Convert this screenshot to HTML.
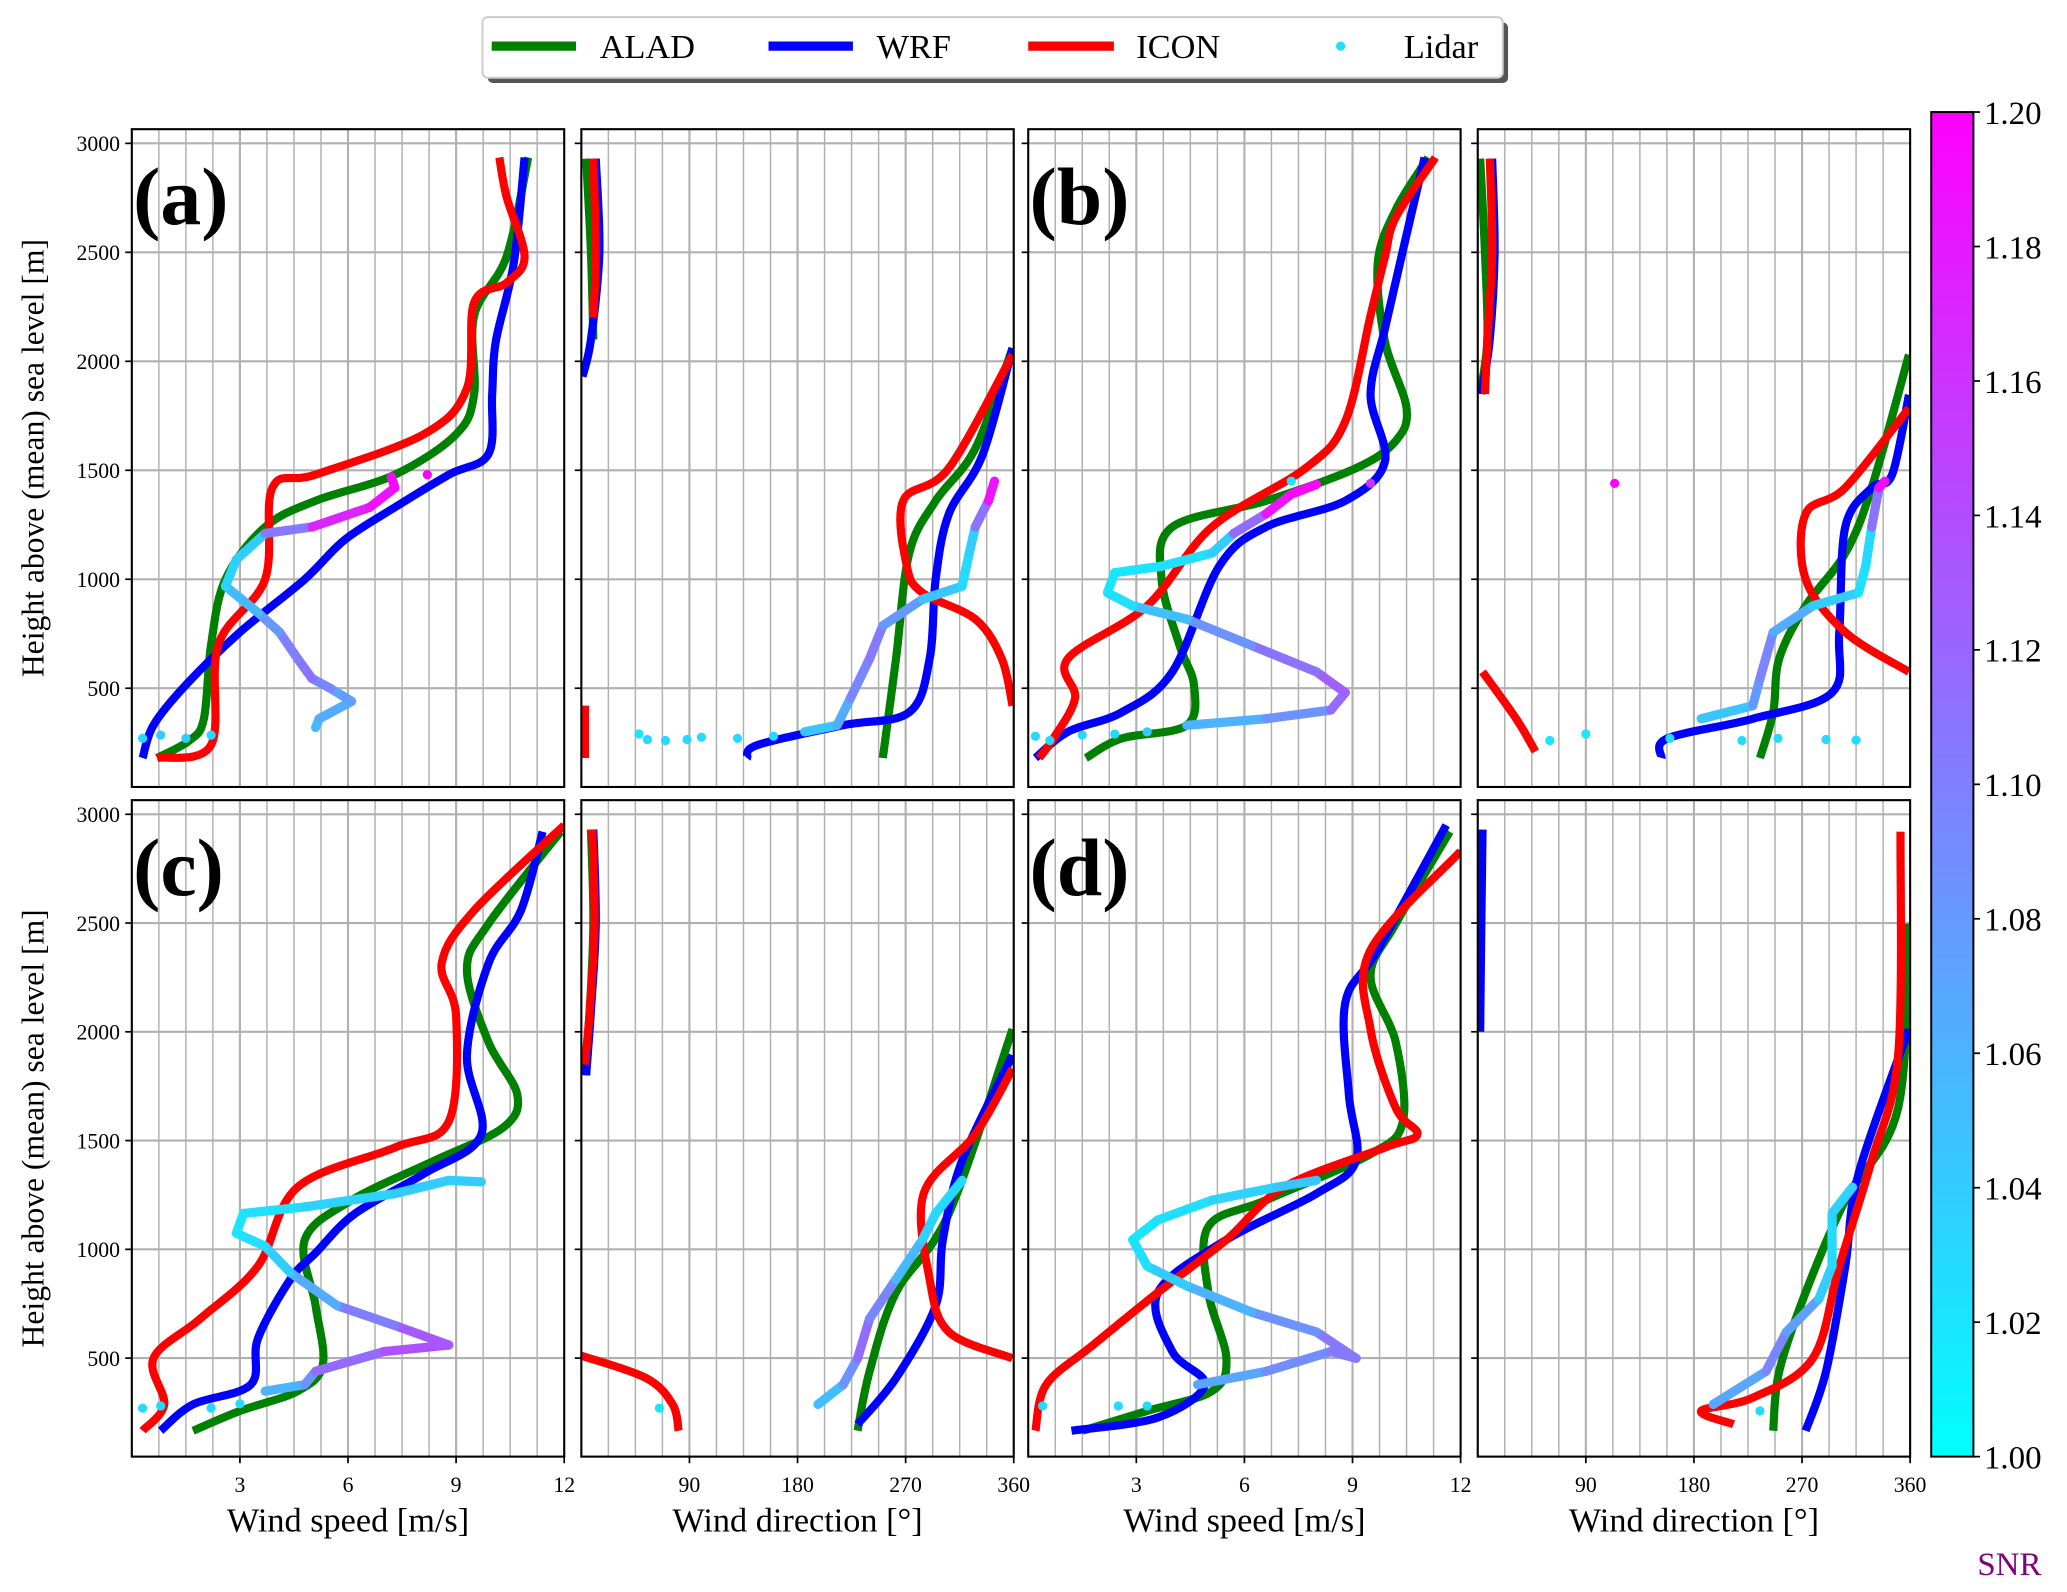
<!DOCTYPE html>
<html><head><meta charset="utf-8">
<style>
html,body{margin:0;padding:0;background:#fff;}
svg{display:block;}
text{font-family:"Liberation Serif","DejaVu Serif",serif;fill:#000;}
</style></head>
<body>
<svg id="fig" xmlns="http://www.w3.org/2000/svg" width="2067" height="1592" viewBox="0 0 1568 1207.7" preserveAspectRatio="none">
<defs>
<linearGradient id="cool" x1="0" y1="1" x2="0" y2="0">
<stop offset="0" stop-color="#00ffff"/><stop offset="1" stop-color="#ff00ff"/>
</linearGradient>
</defs>
<g id="legend">
<rect x="370" y="17" width="774" height="46" rx="4" fill="#555"/>
<rect x="366" y="13" width="774" height="46" rx="4" fill="#fff" stroke="#ccc" stroke-width="1.5"/>
<g><line x1="373" y1="35" x2="437" y2="35" stroke="#008000" stroke-width="7"/><text x="455" y="44" font-size="26">ALAD</text></g>
<g><line x1="583" y1="35" x2="647" y2="35" stroke="#0000ff" stroke-width="7"/><text x="665" y="44" font-size="26">WRF</text></g>
<g><line x1="780" y1="35" x2="845" y2="35" stroke="#ff0000" stroke-width="7"/><text x="862" y="44" font-size="26">ICON</text></g>
<g><circle cx="1017" cy="35" r="3.5" fill="#22ddff"/><text x="1065" y="44" font-size="26">Lidar</text></g>
</g>
<g id="panels"></g>
<g id="colorbar">
<rect x="1465" y="85" width="32" height="1020" fill="url(#cool)" stroke="#000" stroke-width="1.5"/>
</g>
<text x="1500" y="1195" font-size="25" fill="#800080" style="fill:#800080">SNR</text>
</svg>
<script>
// ---------- data (speed m/s or direction deg, height m, [snr]) ----------
const aSpeedALAD=[[0.7,180],[1.6,260],[2.0,360],[2.2,700],[2.6,1000],[3.7,1240],[5.1,1360],[7.3,1480],[9,1665],[9.5,1850],[9.5,2210],[10.4,2480],[11,2935]];
const aSpeedWRF=[[0.3,180],[0.6,330],[1.5,515],[3,757],[4.8,1000],[5.9,1180],[7.3,1330],[8.8,1480],[9.9,1575],[10,1846],[10.1,2090],[10.6,2450],[10.9,2935]];
const aSpeedICON=[[0.7,180],[2.2,240],[2.4,700],[3.7,1000],[3.9,1420],[5.1,1480],[8.1,1665],[9.3,1876],[9.5,2270],[10.4,2360],[10.9,2480],[10.4,2755],[10.2,2935]];
const aSpeedLidar=[[5.1,320,1.05],[5.2,360,1.06],[6.1,440,1.07],[5.5,500,1.08],[5,545,1.11],[4.6,636,1.11],[4.1,757,1.09],[3.5,847,1.07],[2.6,968,1.04],[2.9,1090,1.03],[3.7,1210,1.05],[5,1240,1.16],[6.6,1330,1.18],[7.3,1420,1.19],[7.2,1470,1.2]];
const aSpeedLidarIso=[[0.3,270,1.03],[0.8,285,1.04],[1.5,270,1.04],[2.2,285,1.03],[8.2,1480,1.2]];
const aDirALAD=[[[4,2930],[8,2500],[10,2100]],[[251,180],[262,636],[273,1120],[295,1360],[328,1600],[359,2060]]];
const aDirWRF=[[[12,2930],[15,2500],[8,2100],[1,1930]],[[138,180],[147,240],[218,330],[273,390],[290,636],[295,1000],[306,1300],[334,1570],[359,2060]]];
const aDirICON=[[[10,2930],[12,2500],[10,2200]],[[3,180],[3,420]],[[359,420],[350,636],[328,817],[284,938],[271,1060],[268,1360],[306,1510],[359,2030]]];
const aDirLidar=[[186,300,1.04],[213,330,1.05],[224,454,1.08],[240,636,1.11],[251,787,1.1],[284,908,1.06],[317,968,1.03],[323,1120,1.03],[328,1240,1.05],[339,1360,1.17],[344,1450,1.2]];
const aDirLidarIso=[[48,290,1.02],[55,265,1.03],[70,260,1.03],[88,265,1.03],[100,275,1.03],[130,270,1.03],[160,280,1.03]];

const bSpeedALAD=[[1.6,180],[2.6,270],[4.4,330],[4.6,515],[4.2,696],[3.7,1000],[4,1240],[6.6,1360],[9.1,1510],[10.2,1635],[10.5,1785],[9.9,2090],[9.7,2450],[10.2,2695],[11.1,2935]];
const bSpeedWRF=[[0.2,180],[1.1,300],[2.6,390],[4,575],[5.3,1060],[6.6,1240],[8.8,1360],[9.9,1540],[9.5,1846],[9.9,2150],[10.4,2510],[11,2935]];
const bSpeedICON=[[0.3,180],[0.7,270],[1.3,454],[1.1,636],[3.3,878],[5.1,1240],[7.7,1510],[8.8,1725],[9.5,2210],[9.9,2480],[10.2,2660],[11.3,2935]];
const bSpeedLidar=[[4.4,330,1.05],[6.6,360,1.07],[8.4,400,1.1],[8.8,480,1.13],[8,575,1.12],[6.2,696,1.1],[4.4,817,1.07],[2.9,878,1.03],[2.2,938,1.02],[2.4,1030,1.02],[3.7,1060,1.02],[5.1,1120,1.03],[5.7,1210,1.05],[6.6,1300,1.18],[7.3,1390,1.19],[8,1435,1.2]];
const bSpeedLidarIso=[[0.2,280,1.03],[0.6,260,1.03],[1.5,285,1.03],[2.4,290,1.03],[3.3,300,1.04],[9.5,1440,1.16],[7.3,1450,1.02]];
const bDirALAD=[[[2,2930],[6,2500],[8,2100],[2,1850]],[[235,180],[246,390],[251,636],[273,878],[306,1120],[328,1420],[359,2030]]];
const bDirWRF=[[[12,2930],[14,2500],[10,2100],[3,1850]],[[153,180],[158,270],[229,360],[295,480],[301,757],[306,1240],[328,1420],[345,1480],[359,1846]]];
const bDirICON=[[[10,2930],[12,2500],[8,2100],[6,1850]],[[48,210],[32,360],[4,575]],[[359,575],[306,757],[273,1000],[273,1300],[306,1420],[359,1785]]];
const bDirLidar=[[186,360,1.04],[229,420,1.05],[235,545,1.11],[246,757,1.08],[279,878,1.05],[317,938,1.03],[323,1060,1.02],[328,1240,1.04],[334,1420,1.18],[339,1450,1.2]];
const bDirLidarIso=[[60,260,1.02],[90,290,1.02],[160,270,1.03],[220,260,1.03],[250,270,1.03],[290,265,1.03],[315,262,1.03],[114,1440,1.2]];

const cSpeedALAD=[[1.7,166],[3,257],[4.6,348],[5.3,469],[5.1,741],[4.8,1044],[6.1,1226],[8.4,1408],[10.3,1559],[10.7,1710],[9.9,1952],[9.3,2285],[9.9,2497],[11.9,2920]];
const cSpeedWRF=[[0.8,166],[1.7,287],[3.3,378],[3.5,590],[4.4,862],[5.1,983],[6.2,1165],[8.1,1347],[9.7,1529],[9.3,1892],[9.9,2315],[10.8,2558],[11.4,2920]];
const cSpeedICON=[[0.3,166],[0.9,287],[0.6,499],[1.9,681],[3.5,923],[4.6,1286],[7.3,1468],[8.8,1589],[9,2073],[8.6,2315],[9.5,2558],[12,2950]];
const cSpeedLidar=[[3.7,348,1.05],[4.8,378,1.07],[5.1,439,1.1],[7,530,1.13],[8.8,560,1.14],[7.3,650,1.12],[5.7,741,1.08],[4.4,893,1.05],[3.7,1014,1.03],[2.9,1074,1.02],[3.1,1165,1.02],[4.8,1195,1.03],[7.3,1256,1.04],[8.8,1317,1.04],[9.7,1310,1.04]];
const cSpeedLidarIso=[[0.3,270,1.03],[0.8,280,1.03],[2.2,270,1.03],[3,290,1.03]];
const cDirALAD=[[[8,2930],[10,2500],[7,2100],[3,1800]],[[230,166],[240,439],[262,802],[306,1165],[359,2012]]];
const cDirWRF=[[[10,2930],[12,2500],[8,2100],[4,1800]],[[230,196],[262,408],[295,741],[301,1044],[317,1408],[359,1892]]];
const cDirICON=[[[9,2930],[11,2500],[7,2100],[3,1850]],[[81,166],[76,287],[54,408],[0,511]],[[359,499],[306,620],[290,862],[285,1256],[328,1529],[359,1830]]];
const cDirLidar=[[197,287,1.04],[218,378,1.06],[230,499,1.11],[240,681,1.12],[262,862,1.07],[284,1044,1.04],[295,1165,1.03],[317,1317,1.03]];
const cDirLidarIso=[[65,270,1.02]];

const dSpeedALAD=[[1.5,166],[3.3,257],[5.1,348],[5.5,499],[5,802],[5,1105],[6.6,1226],[9.5,1438],[10.4,1589],[10.2,1952],[9.5,2255],[10.2,2497],[11.7,2920]];
const dSpeedWRF=[[1.2,166],[3.6,227],[4.9,378],[4,530],[3.6,802],[5.5,1044],[8,1256],[9.1,1408],[8.9,1710],[8.8,2134],[9.7,2376],[11.6,2950]];
const dSpeedICON=[[0.2,166],[0.5,378],[1.8,560],[3.6,802],[5.5,1044],[7.1,1286],[9.9,1468],[10.8,1529],[10.2,1650],[9.5,2012],[9.5,2376],[12,2830]];
const dSpeedLidar=[[4.7,378,1.06],[6.6,439,1.08],[8.4,530,1.1],[9.1,499,1.11],[8,620,1.1],[6.2,711,1.07],[4.4,832,1.05],[3.3,923,1.03],[2.9,1044,1.02],[3.6,1135,1.02],[5.1,1226,1.03],[6.9,1286,1.04],[8,1317,1.05]];
const dSpeedLidarIso=[[0.4,280,1.03],[2.5,280,1.03],[3.3,280,1.03]];
const dDirALAD=[[[246,166],[251,439],[273,802],[306,1226],[350,1650],[359,2497]]];
const dDirWRF=[[[4,2930],[3,2500],[2,2000]],[[273,166],[290,439],[306,923],[317,1347],[359,2012]]];
const dDirICON=[[[213,196],[186,257],[229,318],[279,499],[301,923],[328,1408],[350,1892],[352,2920]]];
const dDirLidar=[[196,287,1.05],[240,439,1.09],[257,620,1.1],[284,772,1.05],[295,923,1.03],[295,1165,1.03],[312,1286,1.04]];
const dDirLidarIso=[[235,257,1.03]];

const speedTicks=[3,6,9,12];
const dirTicks=[90,180,270,360];
const heightTicks=[500,1000,1500,2000,2500,3000];
const snrTicks=[1.00,1.02,1.04,1.06,1.08,1.10,1.12,1.14,1.16,1.18,1.20];

// ---------- layout ----------
const NS='http://www.w3.org/2000/svg';
const svg=document.getElementById('fig');
const root=document.getElementById('panels');
const H0=47,H1=3065;
const cols=[[100,428],[441,769],[780,1108],[1121,1449]];
const rows=[[98,597],[607,1105]];
function mk(tag,attrs,parent){const e=document.createElementNS(NS,tag);for(const k in attrs)e.setAttribute(k,attrs[k]);(parent||root).appendChild(e);return e;}
function snrColor(s){const t=Math.max(0,Math.min(1,(s-1.0)/0.2));return 'rgb('+Math.round(255*t)+','+Math.round(255*(1-t))+',255)';}
function smoothPath(pts){
 if(pts.length<3)return 'M'+pts.map(p=>p[0]+','+p[1]).join(' L');
 let d='M'+pts[0][0]+','+pts[0][1];
 for(let i=0;i<pts.length-1;i++){
  const p0=pts[Math.max(0,i-1)],p1=pts[i],p2=pts[i+1],p3=pts[Math.min(pts.length-1,i+2)];
  const c1=[p1[0]+(p2[0]-p0[0])/6,p1[1]+(p2[1]-p0[1])/6],c2=[p2[0]-(p3[0]-p1[0])/6,p2[1]-(p3[1]-p1[1])/6];
  d+=' C'+c1[0]+','+c1[1]+' '+c2[0]+','+c2[1]+' '+p2[0]+','+p2[1];
 }
 return d;
}

const panels=[
 {key:'a',label:'(a)',row:0,col:0,kind:'speed',alad:[aSpeedALAD],wrf:[aSpeedWRF],icon:[aSpeedICON],lidar:aSpeedLidar,iso:aSpeedLidarIso},
 {key:'a',row:0,col:1,kind:'dir',alad:aDirALAD,wrf:aDirWRF,icon:aDirICON,lidar:aDirLidar,iso:aDirLidarIso},
 {key:'b',label:'(b)',row:0,col:2,kind:'speed',alad:[bSpeedALAD],wrf:[bSpeedWRF],icon:[bSpeedICON],lidar:bSpeedLidar,iso:bSpeedLidarIso},
 {key:'b',row:0,col:3,kind:'dir',alad:bDirALAD,wrf:bDirWRF,icon:bDirICON,lidar:bDirLidar,iso:bDirLidarIso},
 {key:'c',label:'(c)',row:1,col:0,kind:'speed',alad:[cSpeedALAD],wrf:[cSpeedWRF],icon:[cSpeedICON],lidar:cSpeedLidar,iso:cSpeedLidarIso},
 {key:'c',row:1,col:1,kind:'dir',alad:cDirALAD,wrf:cDirWRF,icon:cDirICON,lidar:cDirLidar,iso:cDirLidarIso},
 {key:'d',label:'(d)',row:1,col:2,kind:'speed',alad:[dSpeedALAD],wrf:[dSpeedWRF],icon:[dSpeedICON],lidar:dSpeedLidar,iso:dSpeedLidarIso},
 {key:'d',row:1,col:3,kind:'dir',alad:dDirALAD,wrf:dDirWRF,icon:dDirICON,lidar:dDirLidar,iso:dDirLidarIso}
];

panels.forEach((p,i)=>{
 const [x0,x1]=cols[p.col],[y0,y1]=rows[p.row];
 const xmax=p.kind==='speed'?12:360, minor=p.kind==='speed'?0.75:22.5, major=p.kind==='speed'?3:90;
 const X=v=>x0+(v/xmax)*(x1-x0);
 const Y=h=>y1-(h-H0)/(H1-H0)*(y1-y0);
 const g=mk('g',{});
 
 
 const cid='clip'+i;
 const cp=mk('clipPath',{id:cid},g);mk('rect',{x:x0,y:y0,width:x1-x0,height:y1-y0},cp);
 const grid=mk('g',{stroke:'#b0b0b0'},g);
 
 
 for(let v=minor;v<xmax-1e-6;v+=minor){const isMaj=Math.abs(v/major-Math.round(v/major))<1e-6;mk('line',{x1:X(v),x2:X(v),y1:y0,y2:y1,'stroke-width':isMaj?1.6:1.1},grid);}
 heightTicks.forEach(h=>mk('line',{x1:x0,x2:x1,y1:Y(h),y2:Y(h),'stroke-width':1.6},grid));
 const lines=mk('g',{'clip-path':'url(#'+cid+')',fill:'none','stroke-width':6.2,'stroke-linejoin':'round'},g);
 [['alad','#008000'],['wrf','#0000ff'],['icon','#ff0000']].forEach(([nm,col])=>{
  p[nm].forEach(seg=>{
   const pl=mk('path',{d:smoothPath(seg.map(d=>[X(d[0]),Y(d[1])])),stroke:col},lines);
   
   
  });
 });
 const lg=mk('g',{'clip-path':'url(#'+cid+')'},g);
 
 
 for(let k=0;k<p.lidar.length-1;k++){const a=p.lidar[k],b=p.lidar[k+1];
  mk('line',{x1:X(a[0]),y1:Y(a[1]),x2:X(b[0]),y2:Y(b[1]),stroke:snrColor((a[2]+b[2])/2),'stroke-width':7,'stroke-linecap':'round'},lg);}
 p.iso.forEach(d=>{const c=mk('circle',{cx:X(d[0]),cy:Y(d[1]),r:3.5,fill:snrColor(d[2])},lg);
  
  });
 mk('rect',{x:x0,y:y0,width:x1-x0,height:y1-y0,fill:'none',stroke:'#000','stroke-width':1.6},g);
 heightTicks.forEach(h=>{mk('line',{x1:x0-5,x2:x0,y1:Y(h),y2:Y(h),stroke:'#000','stroke-width':1.3},g);
  if(p.col===0){const t=mk('text',{x:x0-9,y:Y(h)+6,'font-size':16.5,'text-anchor':'end'},g);t.textContent=h;
   }});
 if(p.row===1){(p.kind==='speed'?speedTicks:dirTicks).forEach(v=>{
  mk('line',{x1:X(v),x2:X(v),y1:y1,y2:y1+5,stroke:'#000','stroke-width':1.3},g);
  const t=mk('text',{x:X(v),y:y1+27,'font-size':16.5,'text-anchor':'middle'},g);t.textContent=v;
  });
  const tt=mk('text',{x:(x0+x1)/2,y:1162,'font-size':26,'text-anchor':'middle'},g);
  tt.textContent=p.kind==='speed'?'Wind speed [m/s]':'Wind direction [°]';
  }
 if(p.col===0){const yt=mk('text',{x:0,y:0,'font-size':24,'text-anchor':'middle',transform:'translate(33,'+((y0+y1)/2)+') rotate(-90)'},g);
  yt.textContent='Height above (mean) sea level [m]';
  }
 if(p.label){const lb=mk('text',{x:x0+1,y:y0+72,'font-size':62,'font-weight':'bold'},g);lb.textContent=p.label;
  }
});
const cb=document.getElementById('colorbar');
snrTicks.forEach(s=>{const y=1105-(s-1.0)/0.2*1020;
 mk('line',{x1:1497,x2:1502,y1:y,y2:y,stroke:'#000','stroke-width':1.3},cb);
 const t=mk('text',{x:1505,y:y+9,'font-size':25},cb);t.textContent=s.toFixed(2);
 });
</script>
</body></html>
